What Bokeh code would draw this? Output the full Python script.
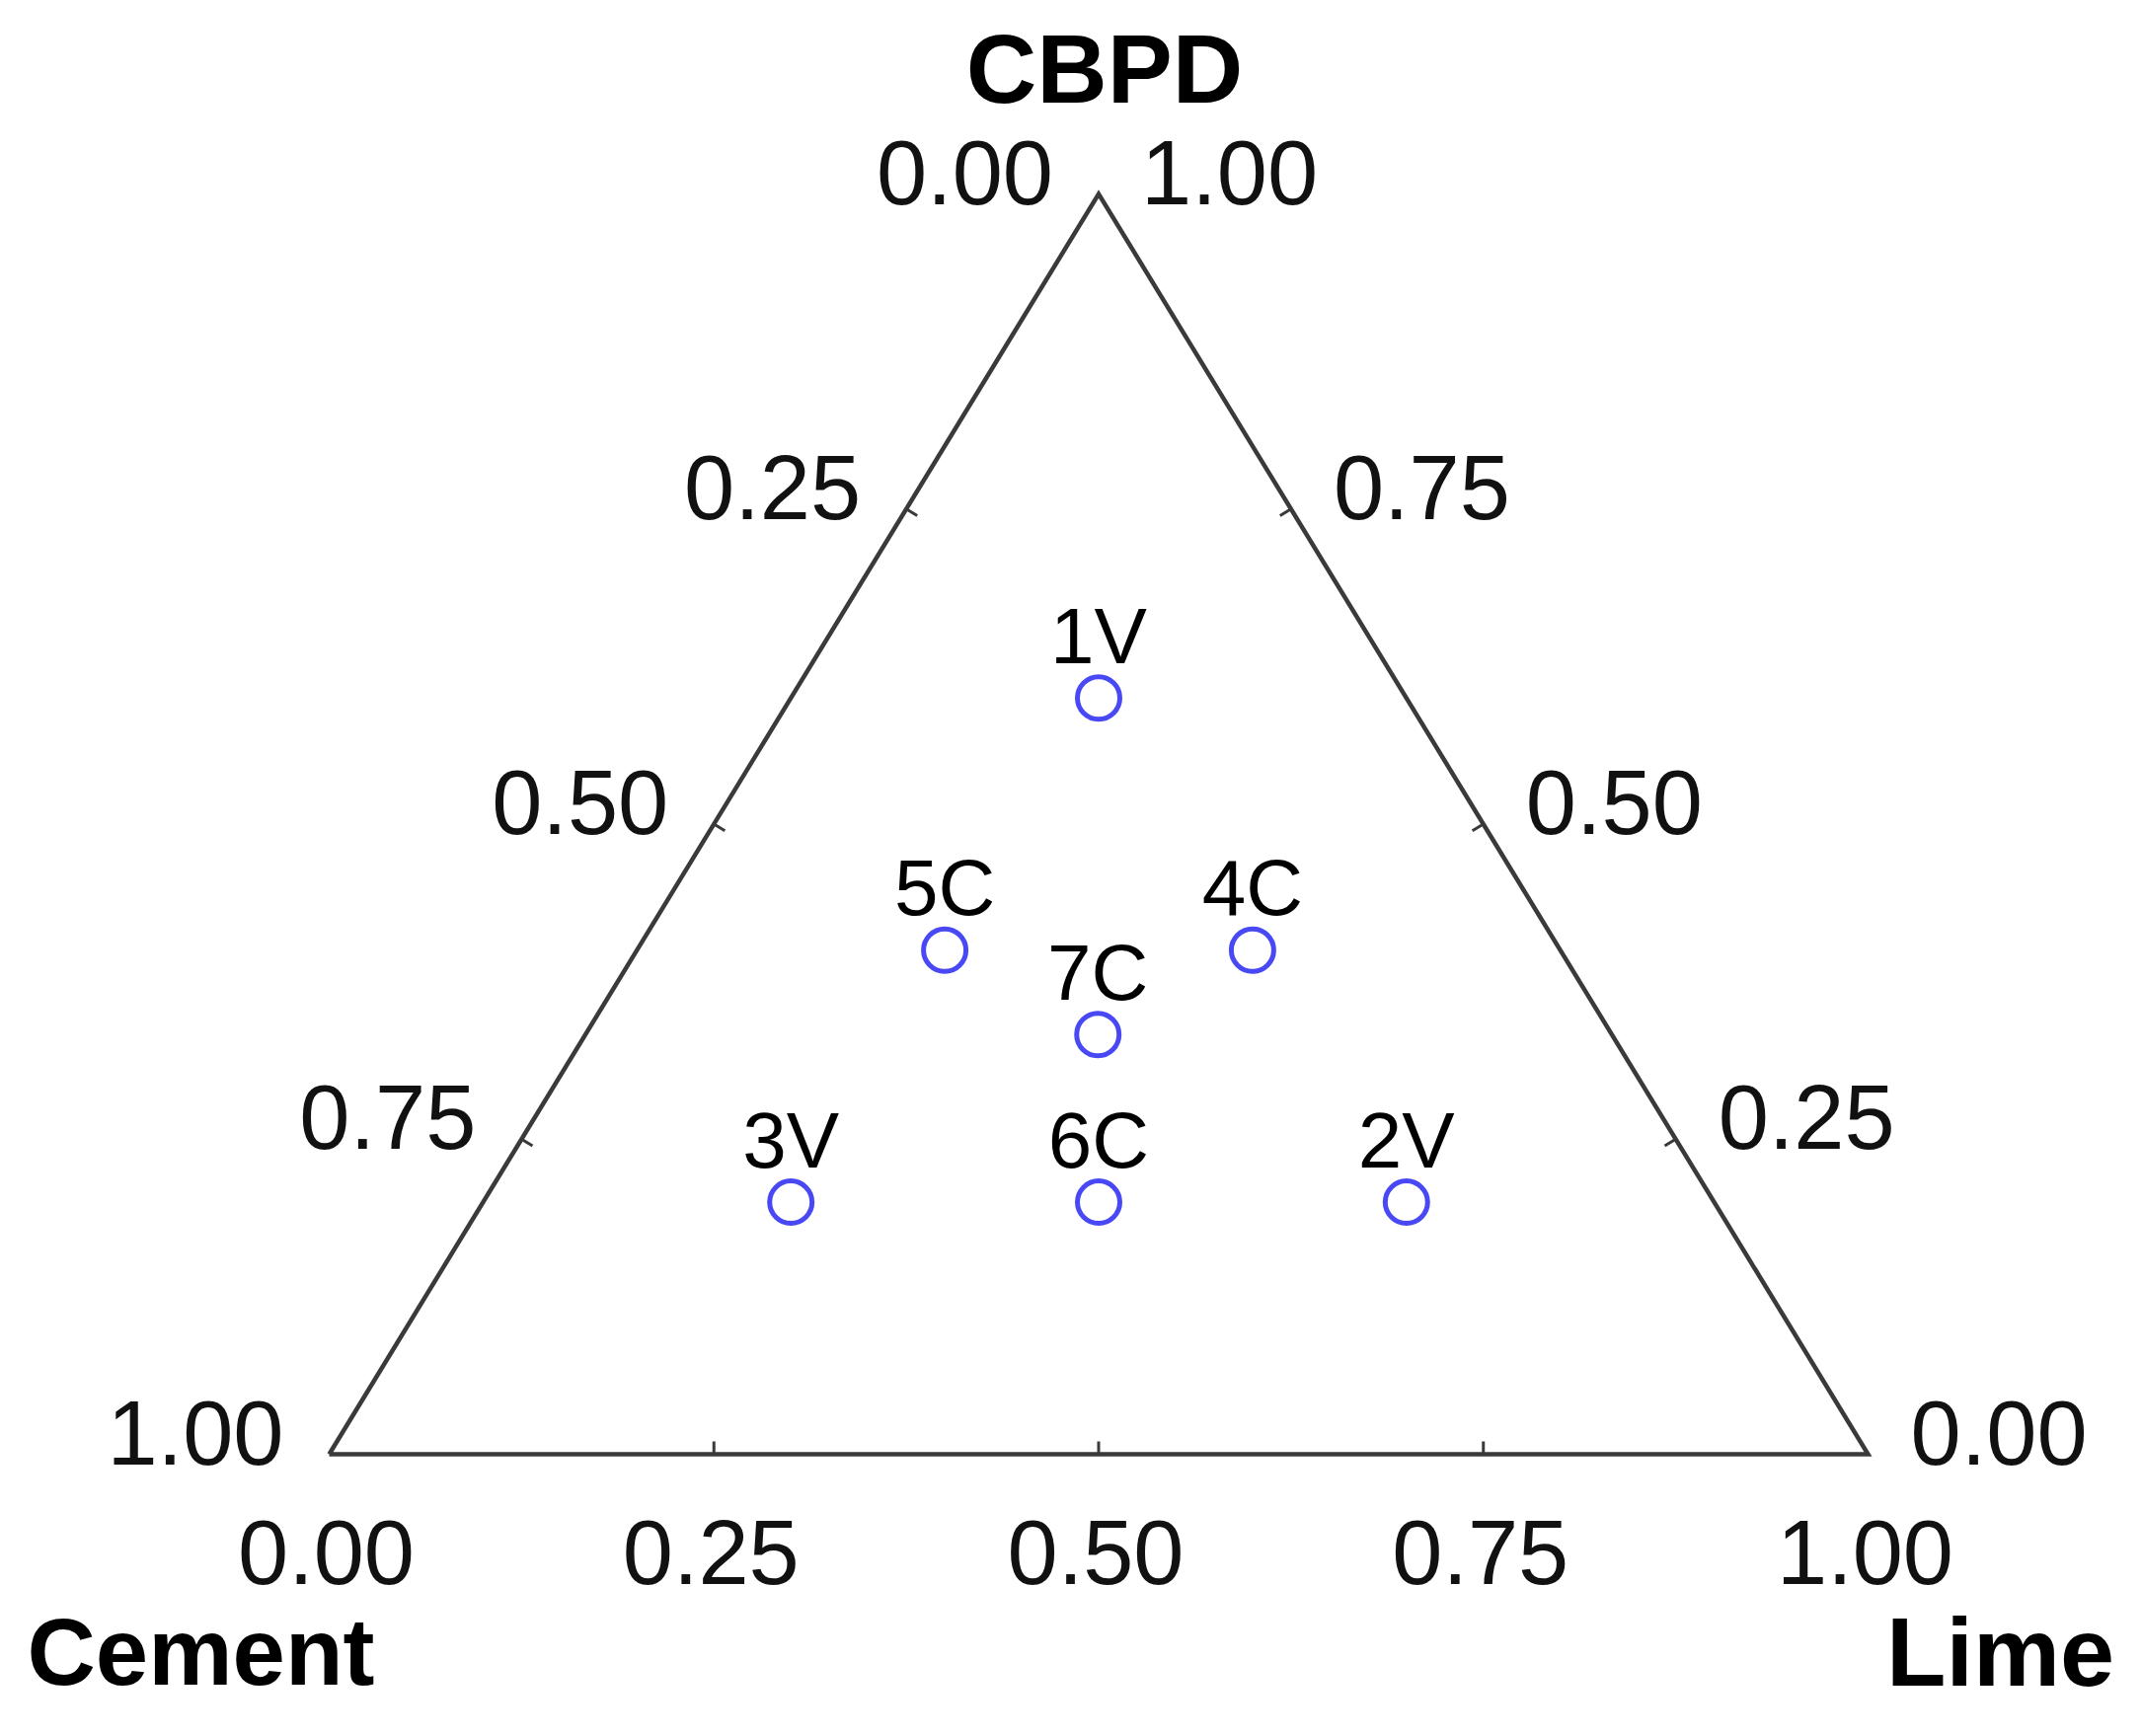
import numpy as np
from bokeh.plotting import figure
from bokeh.models import Range1d, ColumnDataSource
from bokeh.embed import file_html
from bokeh.resources import INLINE
from bokeh.core.properties import value

# ---------------- data ----------------
names = ["1V", "2V", "3V", "4C", "5C", "6C", "7C"]
cement = [0.20, 0.20, 0.60, 0.20, 0.40, 0.40, 0.333]
lime = [0.20, 0.60, 0.20, 0.40, 0.20, 0.40, 0.333]
cbpd = [0.60, 0.20, 0.20, 0.40, 0.40, 0.20, 0.333]

tick_values = [0.0, 0.25, 0.50, 0.75, 1.0]
tick_labels = ["0.00", "0.25", "0.50", "0.75", "1.00"]
title_top, title_left, title_right = "CBPD", "Cement", "Lime"

# ---------------- layout ----------------
W, H = 2153, 1743
OFF = 0
# triangle placement on the page (pixels)
BX0, BY0 = 333.0, 1473.0      # bottom-left vertex
SX, SY = 1559.0, 1277.0       # pixel size of one unit in X and Y

x_rng = Range1d((OFF - BX0) / SX, (OFF + W - BX0) / SX)
y_rng = Range1d((BY0 - (OFF + H)) / SY, (BY0 - OFF) / SY)

FONT = "Liberation Sans"
LINE_COL = "#3a3a3a"


def tern(cm, lm, cb):
    cm, lm, cb = map(np.asarray, (cm, lm, cb))
    return lm + cb / 2.0, cb


p = figure(width=W, height=H, x_range=x_rng, y_range=y_rng,
           output_backend="svg", toolbar_location=None, min_border=0)
p.axis.visible = False
p.grid.visible = False
p.outline_line_color = None
p.background_fill_color = "white"
p.border_fill_color = "white"

# triangle outline
vx, vy = tern([1, 0, 0, 1], [0, 1, 0, 0], [0, 0, 1, 0])
p.line(list(vx), list(vy), line_color=LINE_COL, line_width=4.5, line_join="miter")

# tick marks (inward, perpendicular to each side)
tv = np.array(tick_values)
inner = tv[1:-1]
TL = 13.0  # tick length in px


def inward(side_a, side_b, centroid):
    ax, ay = side_a
    bx, by = side_b
    dx, dy = (bx - ax) * SX, (by - ay) * SY
    nx, ny = -dy, dx
    n = np.hypot(nx, ny)
    nx, ny = nx / n, ny / n
    mx, my = (ax + bx) / 2, (ay + by) / 2
    cx, cy = centroid
    if (cx - mx) * nx + (cy - my) * ny < 0:
        nx, ny = -nx, -ny
    return nx * TL / SX, ny * TL / SY


cen = (0.5, 1.0 / 3.0)
V_BL, V_BR, V_T = (0.0, 0.0), (1.0, 0.0), (0.5, 1.0)

# left side: cement axis (cement=1 at bottom-left, 0 at top)
lx, ly = tern(inner, np.zeros_like(inner), 1 - inner)
ldx, ldy = inward(V_BL, V_T, cen)
# right side: cbpd axis (cbpd=1 at top, 0 at bottom-right)
rx, ry = tern(np.zeros_like(inner), 1 - inner, inner)
rdx, rdy = inward(V_BR, V_T, cen)
# bottom: lime axis (0 at bottom-left, 1 at bottom-right)
bx, by = tern(1 - inner, inner, np.zeros_like(inner))
bdx, bdy = inward(V_BL, V_BR, cen)

for xs, ys, dx, dy in [(lx, ly, ldx, ldy), (rx, ry, rdx, rdy), (bx, by, bdx, bdy)]:
    p.segment(x0=list(xs), y0=list(ys), x1=list(xs + dx), y1=list(ys + dy),
              line_color=LINE_COL, line_width=3)

# tick labels
TICK_FS = "92px"
lxa, lya = tern(tv, np.zeros_like(tv), 1 - tv)
p.text(x=list(lxa), y=list(lya), text=tick_labels, text_align="right",
       text_baseline="middle", x_offset=-46, y_offset=-22,
       text_font=value(FONT), text_font_size=TICK_FS, text_color="#111111")
rxa, rya = tern(np.zeros_like(tv), 1 - tv, tv)
p.text(x=list(rxa), y=list(rya), text=tick_labels, text_align="left",
       text_baseline="middle", x_offset=43, y_offset=-22,
       text_font=value(FONT), text_font_size=TICK_FS, text_color="#111111")
bxa, bya = tern(1 - tv, tv, np.zeros_like(tv))
p.text(x=list(bxa), y=list(bya), text=tick_labels, text_align="center",
       text_baseline="middle", x_offset=-3, y_offset=99,
       text_font=value(FONT), text_font_size=TICK_FS, text_color="#111111")

# axis titles
p.text(x=[V_T[0]], y=[V_T[1]], text=[title_top], text_align="center",
       text_baseline="middle", x_offset=6, y_offset=-127,
       text_font=value(FONT), text_font_size="99px", text_font_style="bold",
       text_color="black")
p.text(x=[V_BL[0]], y=[V_BL[1]], text=[title_left], text_align="center",
       text_baseline="middle", x_offset=-130, y_offset=200,
       text_font=value(FONT), text_font_size="96px", text_font_style="bold",
       text_color="black")
p.text(x=[V_BR[0]], y=[V_BR[1]], text=[title_right], text_align="center",
       text_baseline="middle", x_offset=134, y_offset=200,
       text_font=value(FONT), text_font_size="99px", text_font_style="bold",
       text_color="black")

# design points
px, py = tern(cement, lime, cbpd)
src = ColumnDataSource(dict(x=list(px), y=list(py), name=names))
p.scatter("x", "y", source=src, marker="circle", size=43, fill_color=None,
          line_color="#4848f4", line_width=5)
p.text("x", "y", text="name", source=src, text_align="center",
       text_baseline="alphabetic", y_offset=-63,
       text_font=value(FONT), text_font_size="80px", text_color="black")

open("out.html", "w").write(file_html(p, INLINE))
